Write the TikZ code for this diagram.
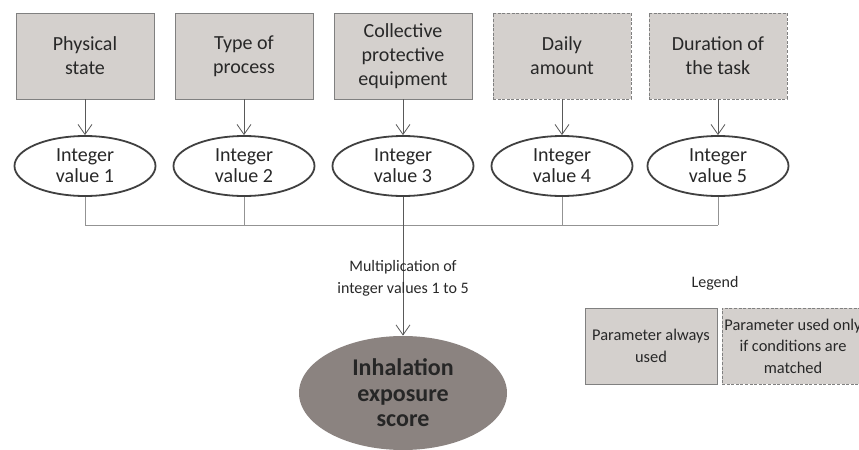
\documentclass[tikz,border=0pt]{standalone}
\usepackage{fontspec}
\setmainfont{Carlito}
\usetikzlibrary{shapes.geometric,arrows.meta}
\definecolor{boxgray}{RGB}{212,208,205}
\definecolor{scoregray}{RGB}{139,131,128}
\definecolor{edgegray}{RGB}{128,128,128}
\definecolor{textgray}{RGB}{40,40,40}

\begin{document}
\begin{tikzpicture}[x=0.5pt,y=-0.5pt,
	param/.style={draw=edgegray, fill=boxgray, minimum width=69pt, minimum height=43pt, inner sep=1pt, align=center, text=textgray, font=\fontsize{10}{12}\selectfont},
	condparam/.style={param, dash pattern=on 1.5pt off 0.8pt},
	intval/.style={ellipse, draw=black!75, line width=0.9pt, fill=white, minimum width=70.5pt, minimum height=30pt, inner sep=0pt, align=center, text=textgray, font=\fontsize{10}{10.5}\selectfont},
	feed/.style={draw=black!65, -{Straight Barb[length=5pt,width=7pt]}},
	bus/.style={draw=edgegray!85, line width=0.5pt},
	legendbox/.style={param, minimum width=66pt, minimum height=38pt, font=\fontsize{8.2}{10.8}\selectfont}]
	\useasboundingbox (0,0) rectangle (859,450);
	\clip (0,0) rectangle (859,450);
	
	% Parameters
	\node[param] (p1) at (85,56) {Physical\\state};
	\node[param] (p2) at (244,56) {Type of\\process};
	\node[param] (p3) at (403,56) {Collective\\protective\\equipment};
	\node[condparam] (p4) at (562,56) {Daily\\amount};
	\node[condparam] (p5) at (718,56) {Duration of\\the task};
	
	% Integer values
	\foreach \i/\x in {1/85,2/244,3/403,4/562,5/718}
		\node[intval] (e\i) at (\x,166) {Integer\\value \i};
	\foreach \i in {1,...,5}
		\draw[feed] (p\i) -- (e\i);
	
	% Joining line
	\coordinate (busy) at (0,225);
	\foreach \i in {1,2,4,5}
		\draw[bus] (e\i.south) -- (e\i.south |- busy);
	\draw[bus] (e1.south |- busy) -- (e5.south |- busy);
	
	% Score
	\node[ellipse, fill=scoregray, minimum width=104pt, minimum height=57pt, inner sep=0pt, align=center, text=black!85, font=\fontsize{12}{12.8}\selectfont\bfseries] (score) at (403,393) {Inhalation\\exposure\\score};
	\draw[feed] (e3) -- node[pos=0.59, align=center, text=textgray, font=\fontsize{8}{11}\selectfont] (mult) {Multiplication of\\integer values 1 to 5} (score);
	
	% Legend
	\node[text=textgray, font=\fontsize{8}{9}\selectfont] (leg) at (715,283) {Legend};
	\node[legendbox] (l1) at (651,346) {Parameter always\\used};
	\node[legendbox, minimum width=71pt, dash pattern=on 1.5pt off 0.8pt] (l2) at (793,346) {Parameter used only\\if conditions are\\matched};
\end{tikzpicture}
\end{document}
